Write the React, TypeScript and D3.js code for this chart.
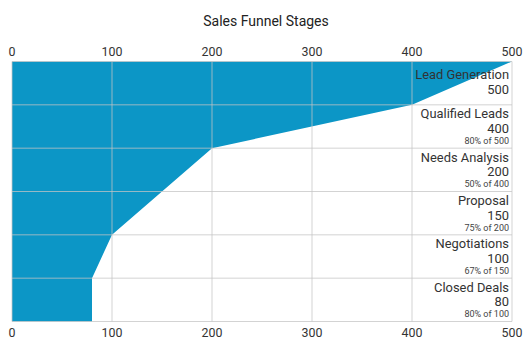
import React from "react";
import * as d3 from "d3";

const stages = ["Lead Generation", "Qualified Leads", "Needs Analysis", "Proposal", "Negotiations", "Closed Deals"];
const values = [500, 400, 200, 150, 100, 80];
const xTicks = [0, 100, 200, 300, 400, 500];
const title = "Sales Funnel Stages";

const W = 532, H = 355;
const M = { left: 12, right: 20, top: 61.5, bottom: 33.5 };

export default function App() {
  const x = d3.scaleLinear().domain([0, 500]).range([M.left, W - M.right]);
  const y = d3.scaleLinear().domain([0, stages.length]).range([M.top, H - M.bottom]);

  const pts: [number, number][] = values.map((v, i) => [i, v]);
  pts.push([stages.length, values[values.length - 1]]);
  const area = d3.area<[number, number]>()
    .y((d) => y(d[0]))
    .x0(() => x(0))
    .x1((d) => x(d[1]));

  const font = "Roboto, 'Noto Sans', sans-serif";

  return (
    <svg width={W} height={H} style={{ position: "absolute", left: 0, top: 0, fontFamily: font }}>
      <rect width={W} height={H} fill="#fff" />
      <text x={W / 2} y={25.7} textAnchor="middle" fontSize={14} fill="#222">{title}</text>
      <path d={area(pts) || ""} fill="#0c96c6" />
      {xTicks.map((t) => (
        <line key={"v" + t} x1={x(t)} x2={x(t)} y1={y(0)} y2={y(stages.length)} stroke="#c4c4c4" strokeOpacity={0.75} strokeWidth={1} />
      ))}
      {d3.range(stages.length + 1).map((i) => (
        <line key={"h" + i} x1={x(0)} x2={x(500)} y1={y(i)} y2={y(i)} stroke="#c4c4c4" strokeOpacity={0.75} strokeWidth={1} />
      ))}
      {xTicks.map((t) => (
        <g key={"t" + t}>
          <text x={x(t)} y={56} textAnchor="middle" fontSize={12.4} fill="#333">{t}</text>
          <text x={x(t)} y={336.5} textAnchor="middle" fontSize={12.4} fill="#333">{t}</text>
        </g>
      ))}
      {stages.map((s, i) => {
        const top = y(i);
        const tx = x(500) - 3;
        if (i === 0) {
          return (
            <g key={s}>
              <text x={tx} y={top + 17.5} textAnchor="end" fontSize={12.9} fill="#333">{s}</text>
              <text x={tx} y={top + 32.5} textAnchor="end" fontSize={12.9} fill="#333">{values[i]}</text>
            </g>
          );
        }
        const pct = Math.round((values[i] / values[i - 1]) * 100);
        return (
          <g key={s}>
            <text x={tx} y={top + 13.5} textAnchor="end" fontSize={12.9} fill="#333">{s}</text>
            <text x={tx} y={top + 28} textAnchor="end" fontSize={12.9} fill="#333">{values[i]}</text>
            <text x={tx} y={top + 39} textAnchor="end" fontSize={9} fill="#444">{`${pct}% of ${values[i - 1]}`}</text>
          </g>
        );
      })}
    </svg>
  );
}
